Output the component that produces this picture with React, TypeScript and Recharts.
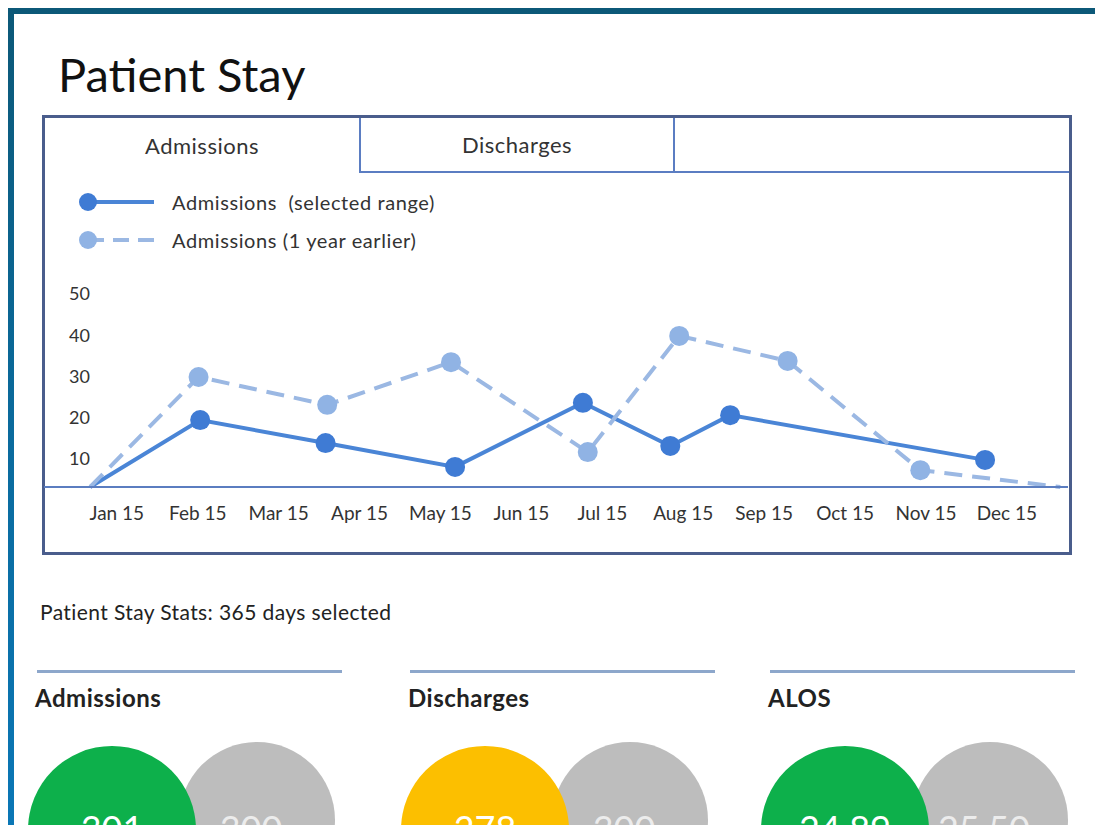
import React from 'react'
import { LineChart, Line, XAxis, YAxis, Legend } from 'recharts'

// x positions are month indexes (0 = Jan 15)
const monthLabels = ['Jan 15', 'Feb 15', 'Mar 15', 'Apr 15', 'May 15', 'Jun 15', 'Jul 15', 'Aug 15', 'Sep 15', 'Oct 15', 'Nov 15', 'Dec 15']
const monthTicks = [0, 1, 2, 3, 4, 5, 6, 7, 8, 9, 10, 11]
const yTicks = [10, 20, 30, 40, 50]

const selectedPos = [-0.33, 1.03, 2.58, 4.18, 5.76, 6.84, 7.58, 10.73]
const selectedValues = [3, 19.3, 13.7, 7.9, 23.5, 13.0, 20.5, 9.6]
const earlierPos = [-0.33, 1.01, 2.6, 4.13, 5.82, 6.95, 8.29, 9.93, 11.66]
const earlierValues = [3, 29.8, 23.0, 33.4, 11.5, 39.8, 33.7, 7.1, 3]

const tabNames = ['Admissions', 'Discharges', '']
const statTitles = ['Admissions', 'Discharges', 'ALOS']
const statCurrent = ['301', '278', '24.89']
const statPrevious = ['300', '300', '25.50']

const FONT = 'Lato, "Open Sans", sans-serif'
const Y_MIN = 3

const selectedData = selectedPos.map((x, i) => ({ x, value: selectedValues[i] }))
const earlierData = earlierPos.map((x, i) => ({ x, value: earlierValues[i] }))

const series = [
  { name: 'Admissions\u00a0 (selected range)', data: selectedData, stroke: '#4a85d6', dot: '#3f7bd4', dash: undefined },
  { name: 'Admissions (1 year earlier)', data: earlierData, stroke: '#9bb8e3', dot: '#90b3e4', dash: '18 10' },
]

const statColors = ['#0db04b', '#fcbf00', '#0db04b']

const makeDot = (color: string) => (props: any) => {
  const { cx, cy, payload, index } = props
  // points sitting on the axis have no marker
  if (payload.value <= Y_MIN) return <g key={index} />
  return <circle key={index} cx={cx} cy={cy} r={10} fill={color} />
}

const YTick = (props: any) => {
  const { x, y, payload } = props
  return (
    <text x={x + 27} y={y} dy="0.36em" textAnchor="start" fill="#333" fontSize={18} fontFamily={FONT}>
      {payload.value}
    </text>
  )
}

const LegendContent = (props: any) => {
  const shown = (props.payload || []).map((p: any) => p.value)
  return (
    <div style={{ fontFamily: FONT }}>
      {series
        .filter((s) => shown.includes(s.name))
        .map((s) => (
          <div key={s.name} style={{ display: 'flex', alignItems: 'center', height: 38 }}>
            <svg width={80} height={22}>
              <line x1={10} y1={11} x2={76} y2={11} stroke={s.stroke} strokeWidth={4} strokeDasharray={s.dash ? '16 9' : undefined} />
              <circle cx={10} cy={11} r={9} fill={s.dot} />
            </svg>
            <span style={{ marginLeft: 14, fontSize: 20, letterSpacing: 0.6, color: '#333' }}>{s.name}</span>
          </div>
        ))}
    </div>
  )
}

const abs = (left: number, top: number, extra: React.CSSProperties = {}): React.CSSProperties => ({
  position: 'absolute',
  left,
  top,
  ...extra,
})

export default function App() {
  const colLeft = [37, 410, 770]
  return (
    <div
      style={{
        position: 'relative',
        margin: -8,
        width: 1103,
        height: 833,
        overflow: 'hidden',
        background: 'linear-gradient(180deg, #0c5877 0%, #0a6a9c 50%, #0a77b6 100%)',
        fontFamily: FONT,
      }}
    >
      <div style={abs(14, 14, { right: 0, bottom: 0, background: '#fff' })} />

      <div style={abs(58, 51, { fontSize: 47, lineHeight: 1, color: '#111' })}>Patient Stay</div>

      {/* chart frame with tabs */}
      <div
        style={abs(42, 115, {
          width: 1030,
          height: 440,
          boxSizing: 'border-box',
          border: '3px solid #4a5d8c',
          background: '#fff',
        })}
      >
        <div style={{ display: 'flex', height: 55 }}>
          {tabNames.map((t, i) => (
            <div
              key={i}
              style={{
                width: i === 0 ? 314 : i === 1 ? 314 : 396,
                boxSizing: 'border-box',
                borderLeft: i === 0 ? 'none' : '2px solid #5b7dc2',
                borderBottom: i === 0 ? 'none' : '2px solid #5b7dc2',
                display: 'flex',
                alignItems: 'center',
                justifyContent: 'center',
                fontSize: 22,
                letterSpacing: 0.5,
                color: '#333',
              }}
            >
              {t}
            </div>
          ))}
        </div>
      </div>

      <div style={abs(43, 180)}>
        <LineChart width={1025} height={352} margin={{ top: 114, right: 0, bottom: 0, left: 0 }}>
          <XAxis
            type="number"
            dataKey="x"
            domain={[-0.9, 11.755]}
            allowDataOverflow
            ticks={monthTicks}
            interval={0}
            tickFormatter={(v: number) => monthLabels[v] ?? ''}
            axisLine={{ stroke: '#5b7dc0', strokeWidth: 2 }}
            tickLine={false}
            tickSize={0}
            tickMargin={20}
            height={45}
            tick={{ fill: '#333', fontSize: 19, fontFamily: FONT }}
          />
          <YAxis
            type="number"
            domain={[Y_MIN, 50]}
            ticks={yTicks}
            width={1}
            axisLine={false}
            tickLine={false}
            tickSize={0}
            tick={YTick}
          />
          <Legend
            layout="horizontal"
            verticalAlign="middle"
            align="center"
            content={LegendContent}
            wrapperStyle={{ position: 'absolute', top: 3, left: 35, width: 520 }}
          />
          {series.map((s) => (
            <Line
              key={s.name}
              name={s.name}
              data={s.data}
              dataKey="value"
              type="linear"
              stroke={s.stroke}
              strokeWidth={4}
              strokeDasharray={s.dash}
              dot={makeDot(s.dot)}
              activeDot={false}
              isAnimationActive={false}
            />
          ))}
        </LineChart>
      </div>

      <div style={abs(40, 601, { fontSize: 21, letterSpacing: 0.4, lineHeight: 1, color: '#222' })}>
        Patient Stay Stats: 365 days selected
      </div>

      {statTitles.map((title, i) => {
        const x = colLeft[i]
        return (
          <React.Fragment key={title}>
            <div style={abs(x, 670, { width: 305, height: 3, background: '#8da7cb' })} />
            <div style={abs(x - 2, 686, { fontSize: 24, fontWeight: 700, letterSpacing: 0.5, lineHeight: 1, color: '#222' })}>{title}</div>
            <div style={abs(x + 220 - 78, 742, { width: 156, height: 156, borderRadius: '50%', background: '#bdbdbd' })} />
            <div style={abs(x + 75 - 84, 746, { width: 168, height: 168, borderRadius: '50%', background: statColors[i] })} />
            <div style={abs(x + 75 - 84, 810, { width: 168, textAlign: 'center', fontSize: 36, lineHeight: 1, color: '#fff' })}>
              {statCurrent[i]}
            </div>
            <div style={abs(x + 214 - 70, 810, { width: 140, textAlign: 'center', fontSize: 36, lineHeight: 1, color: '#ececec' })}>
              {statPrevious[i]}
            </div>
          </React.Fragment>
        )
      })}
    </div>
  )
}
